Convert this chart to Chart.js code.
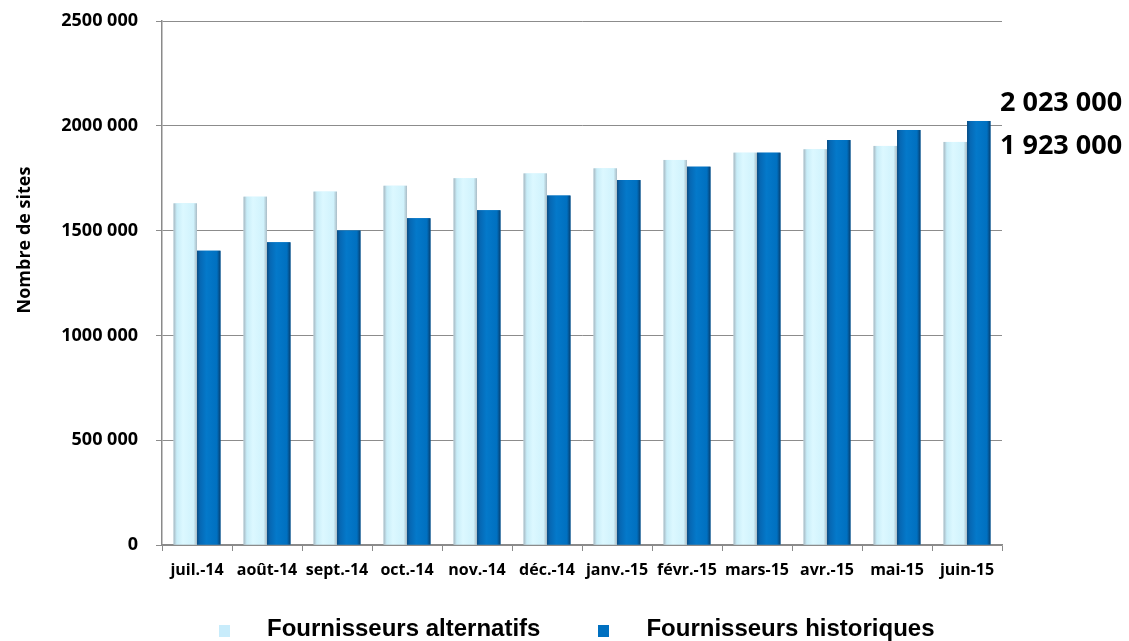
<!DOCTYPE html>
<html lang="fr">
<head>
<meta charset="utf-8">
<title>Nombre de sites</title>
<script src="https://cdn.jsdelivr.net/npm/chart.js@4.4.1/dist/chart.umd.min.js"></script>
<style>
  body { margin: 0; background: #fff; }
  #wrap { position: relative; width: 1129px; height: 641px; }
  #chart-legend ul {
    list-style: none; margin: 0; padding: 0;
    position: absolute; left: 219px; top: 614px;
    display: flex;
  }
  #chart-legend li {
    display: flex; align-items: center; height: 28px;
    font: bold 24px "Liberation Sans", Arial, sans-serif; color: #000;
  }
  #chart-legend li + li { margin-left: 58px; }
  #chart-legend .box { display: block; width: 11px; height: 12px; margin-top: 5px; margin-right: 37px; }
</style>
</head>
<body>
<div id="wrap">
  <canvas id="chart" width="1129" height="641"></canvas>
  <div id="chart-legend"><ul></ul></div>
</div>
<script>
// Data
const categories = ['juil.-14', 'août-14', 'sept.-14', 'oct.-14', 'nov.-14', 'déc.-14',
  'janv.-15', 'févr.-15', 'mars-15', 'avr.-15', 'mai-15', 'juin-15'];
const alternatifs = [1630000, 1662000, 1686000, 1714000, 1750000, 1773000,
  1797000, 1837000, 1872000, 1888000, 1904000, 1923000];
const historiques = [1404000, 1444000, 1500000, 1559000, 1597000, 1667000,
  1741000, 1805000, 1872000, 1932000, 1980000, 2023000];
const yTickLabels = ['0', '500 000', '1000 000', '1500 000', '2000 000', '2500 000'];
const yTitle = 'Nombre de sites';

const LIGHT = '#d3f4fd';
const DARK = '#0070c0';

const fmt = v => String(v).replace(/\B(?=(\d{3})+(?!\d))/g, ' ');

// Cylinder-like shading over each bar
const barShading = {
  id: 'barShading',
  afterDatasetsDraw(c) {
    const ctx = c.ctx;
    c.data.datasets.forEach((ds, i) => {
      const stops = i === 0
        ? [[0, '#a7b7c0'], [0.14, '#c8edf8'], [0.4, '#dcf8ff'], [0.85, '#d0f2fc'], [1, '#a9bcc6']]
        : [[0, '#0a4c82'], [0.14, '#0668b4'], [0.4, '#0479ca'], [0.85, '#0070c0'], [1, '#073f70']];
      c.getDatasetMeta(i).data.forEach(bar => {
        const left = bar.x - bar.width / 2;
        const g = ctx.createLinearGradient(left, 0, left + bar.width, 0);
        stops.forEach(s => g.addColorStop(s[0], s[1]));
        ctx.save();
        ctx.fillStyle = g;
        ctx.fillRect(left, bar.y, bar.width, bar.base - bar.y);
        ctx.restore();
      });
    });
  },
};

// Last values written at the right of the plot, and the y title
const extraText = {
  id: 'extraText',
  afterDraw(c) {
    const ctx = c.ctx;
    const y = c.scales.y;
    const x = c.chartArea.right - 2;
    ctx.save();
    ctx.font = 'bold 27px "Open Sans"';
    ctx.fillStyle = '#000';
    ctx.textAlign = 'left';
    ctx.textBaseline = 'middle';
    const hist = historiques[historiques.length - 1];
    const alt = alternatifs[alternatifs.length - 1];
    ctx.fillText(fmt(hist), x, y.getPixelForValue(hist) - 18);
    ctx.fillText(fmt(alt), x, y.getPixelForValue(alt) + 4);
    ctx.restore();

    ctx.save();
    ctx.translate(25, 240);
    ctx.rotate(-Math.PI / 2);
    ctx.font = 'bold 18px "Open Sans"';
    ctx.fillStyle = '#000';
    ctx.textAlign = 'center';
    ctx.textBaseline = 'middle';
    ctx.fillText(yTitle, 0, 0);
    ctx.restore();
  },
};

const htmlLegend = {
  id: 'htmlLegend',
  afterUpdate(c) {
    const ul = document.querySelector('#chart-legend ul');
    while (ul.firstChild) ul.firstChild.remove();
    c.data.datasets.forEach(ds => {
      const li = document.createElement('li');
      const box = document.createElement('span');
      box.className = 'box';
      box.style.backgroundColor = ds.legendColor;
      li.appendChild(box);
      li.appendChild(document.createTextNode(ds.label));
      ul.appendChild(li);
    });
  },
};

new Chart(document.getElementById('chart'), {
  type: 'bar',
  data: {
    labels: categories,
    datasets: [
      { label: 'Fournisseurs alternatifs', data: alternatifs, backgroundColor: LIGHT, legendColor: '#c8ecfb' },
      { label: 'Fournisseurs historiques', data: historiques, backgroundColor: DARK, legendColor: DARK },
    ],
  },
  options: {
    responsive: false,
    devicePixelRatio: 1,
    animation: false,
    layout: { padding: { top: 21, right: 127, left: 0, bottom: 0 } },
    categoryPercentage: 0.67,
    barPercentage: 1,
    plugins: {
      legend: { display: false },
      tooltip: { enabled: false },
    },
    scales: {
      x: {
        afterFit(s) { s.height = 96; s.paddingLeft = 0; s.paddingRight = 0; },
        grid: { offset: true, drawOnChartArea: false, drawTicks: true, tickLength: 6, color: '#8a8a8a' },
        border: { color: '#8a8a8a', width: 1.5 },
        ticks: {
          autoSkip: false, maxRotation: 0, minRotation: 0, padding: 10,
          color: '#000', font: { family: '"Open Sans"', size: 16, weight: 'bold' },
        },
      },
      y: {
        min: 0,
        max: 2500000,
        afterFit(s) { s.width = 162; s.paddingTop = 0; s.paddingBottom = 0; },
        grid: { color: '#8c8c8c', tickLength: 6, lineWidth: 1 },
        border: { color: '#8a8a8a', width: 1.5 },
        ticks: {
          stepSize: 500000, padding: 18, color: '#000',
          font: { family: '"Open Sans"', size: 18, weight: 'bold' },
          callback: (v, i) => yTickLabels[i],
        },
      },
    },
  },
  plugins: [barShading, extraText, htmlLegend],
});
</script>
</body>
</html>
